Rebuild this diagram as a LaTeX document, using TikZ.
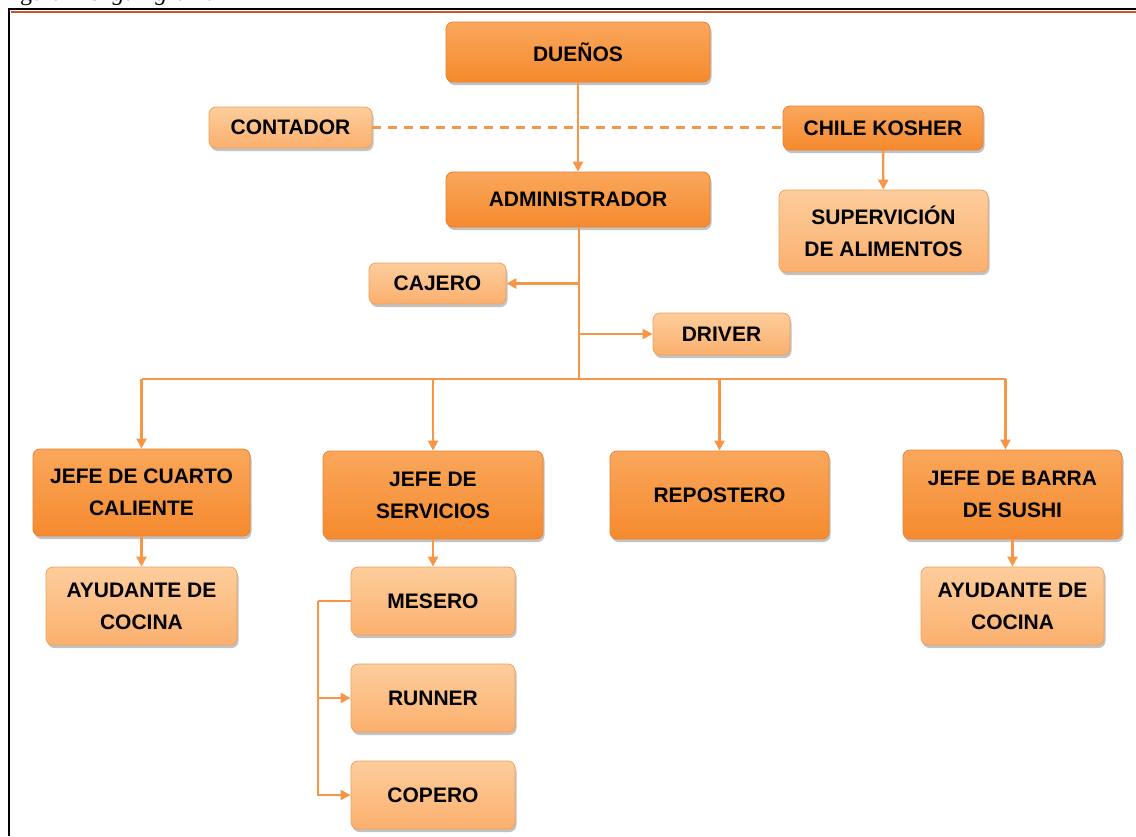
\documentclass[tikz,border=0pt]{standalone}
\usepackage{fontspec}
\setmainfont{Liberation Sans}
\newfontfamily\capfont{Liberation Serif}
\usetikzlibrary{arrows.meta,shadows}

\definecolor{lnorange}{HTML}{F79646}
\definecolor{dktop}{HTML}{FAA75C}
\definecolor{dkbot}{HTML}{F58A2E}
\definecolor{dkedge}{HTML}{E9802F}
\definecolor{lttop}{HTML}{FDCD9C}
\definecolor{ltbot}{HTML}{FBB06E}
\definecolor{ltedge}{HTML}{EFA15E}
\definecolor{framered}{HTML}{C8552B}

\tikzset{
  box/.style={rounded corners=7pt, inner sep=0pt, align=center,
    font=\bfseries\fontsize{21}{32}\selectfont, text=black,
    line width=0.8pt,
    drop shadow={shadow xshift=1.5pt, shadow yshift=-3pt, opacity=0.4, fill=black!60}},
  dk/.style={box, draw=dkedge, top color=dktop, bottom color=dkbot},
  lt/.style={box, draw=ltedge, top color=lttop, bottom color=ltbot},
  ln/.style={draw=lnorange, line width=2.3pt},
  arr/.style={ln, -{Triangle[length=10pt,width=10pt]}},
  dashline/.style={ln, dash pattern=on 9pt off 7pt},
}

\begin{document}
\begin{tikzpicture}[x=1pt, y=-1pt]
\useasboundingbox (0,0) rectangle (1136,836);

% caption above the frame
\begin{scope}
  \clip (0,0) rectangle (1136,836);
  \node[anchor=base west, inner sep=0pt, font=\capfont\fontsize{24}{26}\selectfont] (caption) at (0,0.5) {Figura 1 \textit{Organigrama}};
\end{scope}

% frame
\draw[black, line width=2.5pt] (9,836) -- (9,9) -- (1136,9);
\draw[framered, line width=2pt] (10.5,11.8) -- (1136,11.8);

% boxes
\node[dk, minimum width=264pt, minimum height=60pt] (duenos) at (578,52) {DUEÑOS};
\node[lt, minimum width=163pt, minimum height=41pt] (contador) at (290.5,127.5) {CONTADOR};
\node[dk, minimum width=200pt, minimum height=44pt] (kosher) at (883,128) {CHILE KOSHER};
\node[dk, minimum width=264pt, minimum height=55pt] (admin) at (578,199.5) {ADMINISTRADOR};
\node[lt, minimum width=209pt, minimum height=82pt] (superv) at (883.5,231) {SUPERVICIÓN\\DE ALIMENTOS};
\node[lt, minimum width=137pt, minimum height=41pt] (cajero) at (437.5,283.5) {CAJERO};
\node[lt, minimum width=137pt, minimum height=42pt] (driver) at (721.5,334) {DRIVER};

\node[dk, minimum width=217pt, minimum height=87pt] (cuarto) at (141.5,492.5) {JEFE DE CUARTO\\CALIENTE};
\node[dk, minimum width=220pt, minimum height=88pt] (servicios) at (433,495) {JEFE DE\\SERVICIOS};
\node[dk, minimum width=219pt, minimum height=88pt] (repostero) at (719.5,495) {REPOSTERO};
\node[dk, minimum width=219pt, minimum height=89pt] (barra) at (1012.5,494.5) {JEFE DE BARRA\\DE SUSHI};

\node[lt, minimum width=191pt, minimum height=78pt] (ayud1) at (141.5,606) {AYUDANTE DE\\COCINA};
\node[lt, minimum width=164pt, minimum height=68pt] (mesero) at (433,601) {MESERO};
\node[lt, minimum width=164pt, minimum height=68pt] (runner) at (433,698) {RUNNER};
\node[lt, minimum width=164pt, minimum height=68pt] (copero) at (433,795) {COPERO};
\node[lt, minimum width=183pt, minimum height=78pt] (ayud2) at (1012.5,606) {AYUDANTE DE\\COCINA};

% connectors
\coordinate (bus) at (579,379);
\coordinate (side) at (318,601);

\draw[arr] (duenos) -- (admin);
\draw[dashline] (contador.east) -- (contador.east -| kosher.west);
\draw[arr] (kosher) -- (superv);

\draw[ln] (admin.south -| bus) -- (bus);
\draw[arr] (bus |- cajero.east) -- (cajero.east);
\draw[arr] (bus |- driver.west) -- (driver.west);

\draw[ln] (bus -| cuarto.north) -- ([xshift=-7pt]bus -| barra.north);
\draw[arr] (bus -| cuarto.north) -- (cuarto.north);
\draw[arr] (bus -| servicios.north) -- (servicios.north);
\draw[arr] (bus -| repostero.north) -- (repostero.north);
\draw[arr] ([xshift=-7pt]bus -| barra.north) -- ([xshift=-7pt]barra.north);

\draw[arr] (cuarto) -- (ayud1);
\draw[arr] (servicios) -- (mesero);
\draw[arr] (barra) -- (ayud2);

\draw[ln] (mesero.west) -- (side);
\draw[arr] (side) |- (copero.west);
\draw[arr] (side |- runner.west) -- (runner.west);
\end{tikzpicture}
\end{document}
